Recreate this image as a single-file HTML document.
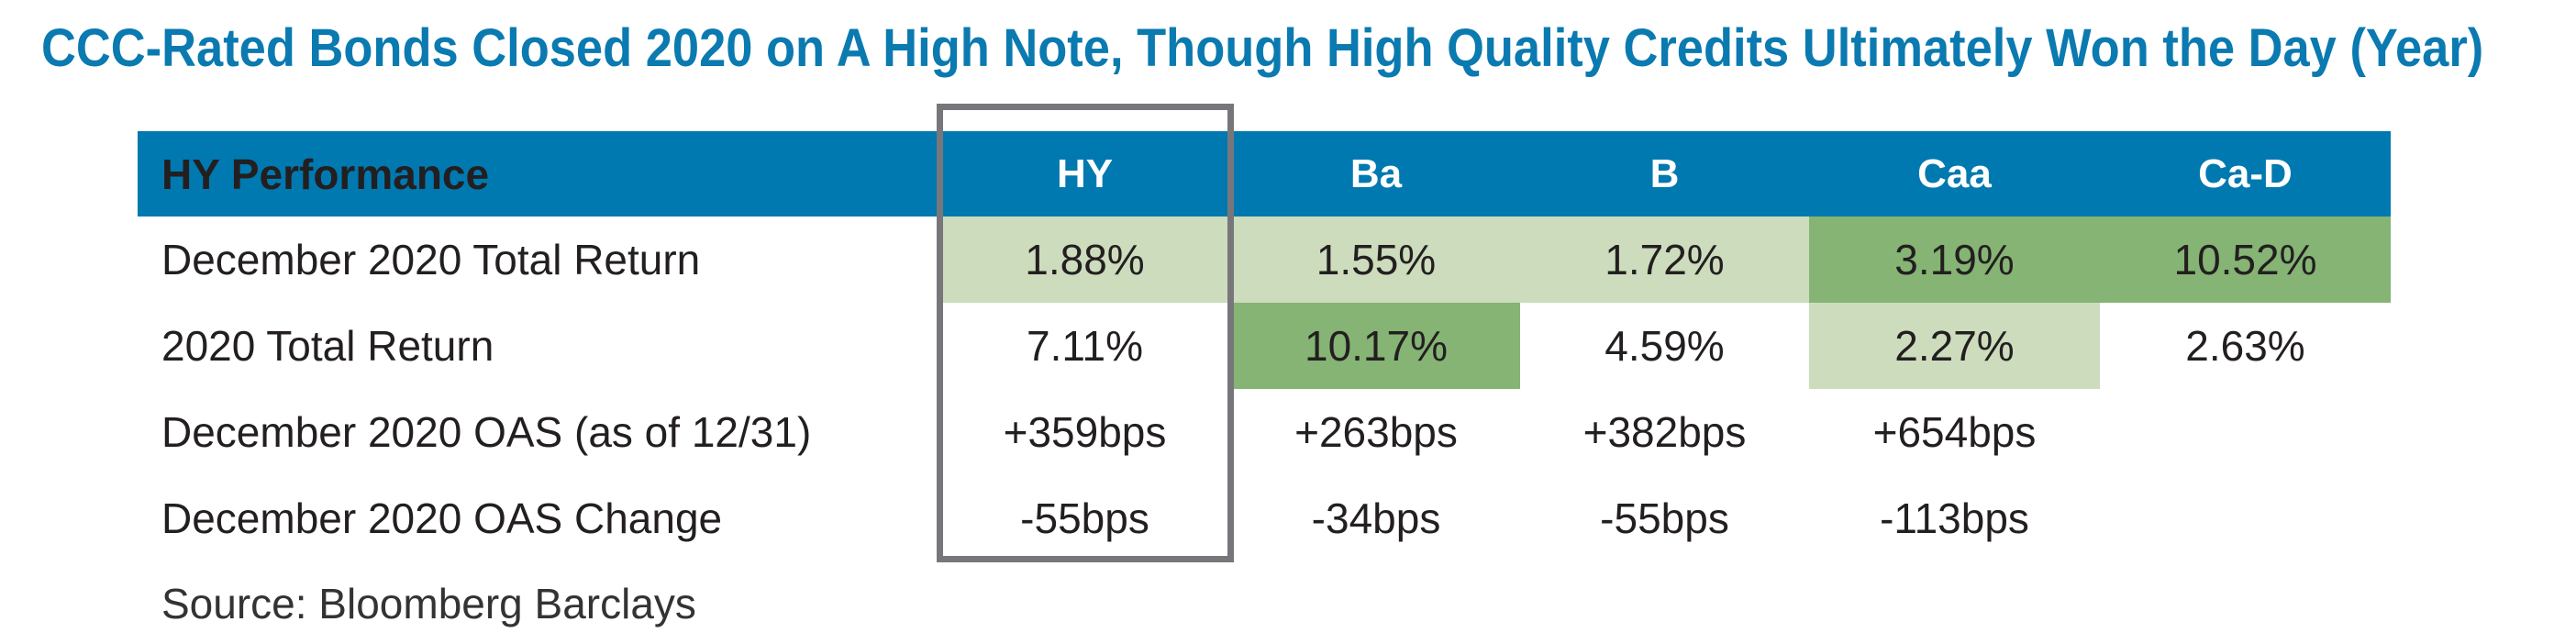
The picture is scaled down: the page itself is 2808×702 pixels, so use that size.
<!DOCTYPE html>
<html><head><meta charset="utf-8">
<style>
html,body{margin:0;padding:0;background:#fff;}
#root{position:relative;width:2808px;height:702px;overflow:hidden;font-family:"Liberation Sans",sans-serif;}
.fit{position:absolute;white-space:nowrap;transform-origin:0 50%;}
#title{left:45px;top:24px;font-size:58px;font-weight:bold;color:#0a7ab0;line-height:58px;}
#header{position:absolute;left:150px;top:143px;width:2456px;height:93px;background:#0079b0;}
.cell{position:absolute;display:flex;align-items:center;justify-content:center;font-size:46px;color:#231f20;white-space:nowrap;}
.hcell{color:#fff;font-weight:bold;font-size:44px;}
.lbl{position:absolute;left:176px;font-size:46px;color:#231f20;white-space:nowrap;display:flex;align-items:center;}
#hybox{position:absolute;left:1021px;top:113px;width:310px;height:486px;border:7px solid #77777b;}
</style></head><body>
<div id="root">
<div id="title" class="fit">CCC-Rated Bonds Closed 2020 on A High Note, Though High Quality Credits Ultimately Won the Day (Year)</div>
<div id="header"></div>
<div id="table"></div>
<div id="hybox"></div>
<div class="lbl" style="top:628px;height:60px;color:#333;">Source: Bloomberg Barclays</div>
</div>
<script>
const columns = ["HY","Ba","B","Caa","Ca-D"];
const rowLabels = ["December 2020 Total Return","2020 Total Return","December 2020 OAS (as of 12/31)","December 2020 OAS Change"];
const decReturn = ["1.88%","1.55%","1.72%","3.19%","10.52%"];
const yearReturn = ["7.11%","10.17%","4.59%","2.27%","2.63%"];
const oas = ["+359bps","+263bps","+382bps","+654bps",""];
const oasChange = ["-55bps","-34bps","-55bps","-113bps",""];
const decShade = ["light","light","light","dark","dark"];
const yearShade = ["none","dark","none","light","none"];

const colX = [1022,1343,1657,1972,2289,2606];
const headerTop = 143, headerH = 93, rowTop = 236, rowH = 94;
const fills = {light:"#ccdcbd", dark:"#85b474", none:"transparent"};
const table = document.getElementById('table');
const root = document.getElementById('root');

function addCell(parent, x, y, w, h, text, cls, bg, name){
  const d = document.createElement('div');
  d.className = 'cell ' + cls;
  d.style.left = x + 'px'; d.style.top = y + 'px';
  d.style.width = w + 'px'; d.style.height = h + 'px';
  d.style.background = bg;
  d.textContent = text;
  
  
  parent.appendChild(d);
  return d;
}
const hl = document.createElement('div');
hl.className = 'lbl hcell';
hl.style.top = headerTop + 'px'; hl.style.height = headerH + 'px';
hl.textContent = 'HY Performance';


table.appendChild(hl);
columns.forEach((c,i)=>{
  addCell(table, colX[i], headerTop, colX[i+1]-colX[i], headerH, c, 'hcell', 'transparent', 'column-header-' + c.toLowerCase());
});
const rows = [decReturn, yearReturn, oas, oasChange];
const shades = [decShade, yearShade, null, null];
rows.forEach((vals, r)=>{
  const y = rowTop + r*rowH;
  const l = document.createElement('div');
  l.className = 'lbl';
  l.style.top = y + 'px'; l.style.height = rowH + 'px';
  l.textContent = rowLabels[r];
  
  
  table.appendChild(l);
  vals.forEach((v,i)=>{
    const bg = shades[r] ? fills[shades[r][i]] : 'transparent';
    addCell(table, colX[i], y, colX[i+1]-colX[i], rowH, v, '', bg, 'value-cell');
  });
});
// fit title width
const t = document.getElementById('title');
const target = 2662;
t.style.transform = 'scaleX(' + (target / t.scrollWidth) + ')';
// fit labels to condensed widths
</script>
</body></html>
